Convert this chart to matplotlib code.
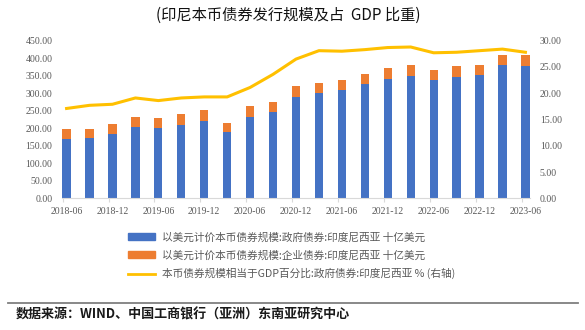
import numpy as np
import matplotlib
matplotlib.use("Agg")
import matplotlib.pyplot as plt
from matplotlib.patches import Patch
from matplotlib.lines import Line2D
from matplotlib.transforms import ScaledTranslation

# 季度数据 2018-06 ~ 2023-06
quarters = ['2018-06', '2018-09', '2018-12', '2019-03', '2019-06', '2019-09', '2019-12',
            '2020-03', '2020-06', '2020-09', '2020-12', '2021-03', '2021-06', '2021-09',
            '2021-12', '2022-03', '2022-06', '2022-09', '2022-12', '2023-03', '2023-06']
gov_bonds = [168, 172, 184, 203, 202, 209, 220, 188, 232, 245, 290, 300, 308, 325,
             342, 349, 338, 346, 353, 382, 379]
corp_bonds = [29, 27, 27, 28, 28, 31, 31, 26, 31, 30, 30, 29, 30, 30,
              29, 32, 29, 31, 29, 28, 29]
gdp_pct = [17.1, 17.7, 17.9, 19.1, 18.6, 19.1, 19.3, 19.3, 21.1, 23.6, 26.5, 28.1,
           28.0, 28.3, 28.7, 28.8, 27.7, 27.8, 28.1, 28.4, 27.8]

BLUE = '#4472C4'
ORANGE = '#ED7D31'
GOLD = '#FFC000'
GRAY = '#595959'
SERIF = ['Liberation Serif', 'DejaVu Serif']
CJK = ['Noto Sans CJK SC', 'DejaVu Sans']

plt.rcParams['font.family'] = CJK

fig = plt.figure(figsize=(5.85, 3.30), dpi=100)
ax = fig.add_axes([62 / 585, 1 - 198.3 / 330, (530 - 62) / 585, (198.3 - 40.7) / 330])

x = np.arange(len(quarters))
ax.bar(x, gov_bonds, width=0.36, color=BLUE, zorder=2)
ax.bar(x, corp_bonds, width=0.36, bottom=gov_bonds, color=ORANGE, zorder=2)
ax.set_xlim(-0.2, len(quarters) - 0.8)
ax.set_ylim(0, 450)
ax.set_yticks(np.arange(0, 451, 50))
ax.set_yticklabels([f'{v:.2f}' for v in np.arange(0, 451, 50)])

# 刻度线略偏左，标签居中于柱子
ax.set_xticks(x[::2] - 0.17)
ax.set_xticklabels(quarters[::2])
ax.tick_params(axis='x', length=3, color='#D9D9D9', pad=3)
ax.tick_params(axis='y', length=0, pad=7)
offset = ScaledTranslation(0.17 * 22.9 / 100, 0, fig.dpi_scale_trans)
for lab in ax.get_xticklabels():
    lab.set_transform(lab.get_transform() + offset)

for s in ['top', 'right', 'left']:
    ax.spines[s].set_visible(False)
ax.spines['bottom'].set_color('#D9D9D9')

ax2 = ax.twinx()
ax2.plot(x, gdp_pct, color=GOLD, linewidth=2.2, zorder=3)
ax2.set_ylim(0, 30)
ax2.set_yticks(np.arange(0, 31, 5))
ax2.set_yticklabels([f'{v:.2f}' for v in np.arange(0, 31, 5)])
ax2.tick_params(axis='y', length=0, pad=7)
for s in ['top', 'right', 'left', 'bottom']:
    ax2.spines[s].set_visible(False)

for lab in ax.get_xticklabels() + ax.get_yticklabels() + ax2.get_yticklabels():
    lab.set_fontfamily(SERIF)
    lab.set_fontsize(7)
    lab.set_color(GRAY)

fig.text(288 / 585, 1 - 15 / 330, '(印尼本币债券发行规模及占  GDP 比重)',
         ha='center', va='center', fontsize=11, color='#111111')

handles = [Patch(color=BLUE), Patch(color=ORANGE), Line2D([], [], color=GOLD, linewidth=2)]
labels = ['以美元计价本币债券规模:政府债券:印度尼西亚 十亿美元',
          '以美元计价本币债券规模:企业债券:印度尼西亚 十亿美元',
          '本币债券规模相当于GDP百分比:政府债券:印度尼西亚 % (右轴)']
leg = fig.legend(handles, labels, loc='upper left', bbox_to_anchor=(128 / 585, 1 - 232 / 330),
                 frameon=False, fontsize=7.7, handlelength=2.5, handleheight=0.6,
                 labelspacing=0.72, handletextpad=0.7, borderpad=0, borderaxespad=0)
for t in leg.get_texts():
    t.set_color(GRAY)

fig.add_artist(Line2D([8 / 585, 578 / 585], [1 - 303 / 330] * 2, color='#7F7F7F', linewidth=1.3))
fig.text(16 / 585, 1 - 315 / 330, '数据来源：WIND、中国工商银行（亚洲）东南亚研究中心',
         ha='left', va='center', fontsize=9.4, fontweight='bold', style='italic', color='#1a1a1a')

fig.savefig('out.png', dpi=100)
